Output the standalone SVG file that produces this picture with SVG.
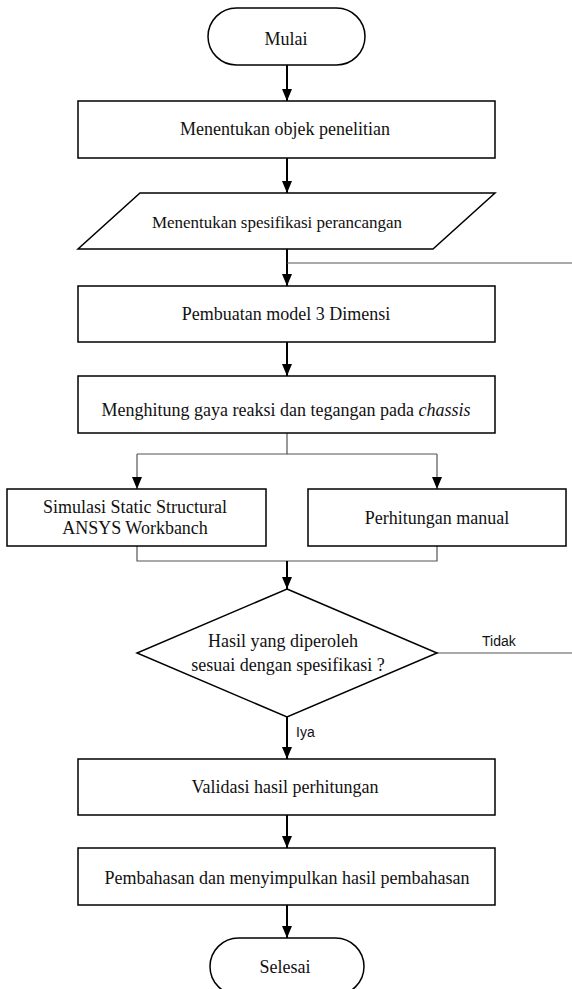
<svg xmlns="http://www.w3.org/2000/svg" width="572" height="989" viewBox="0 0 572 989">
<style>
.shape{fill:#fff;stroke:#000;stroke-width:1.5}
.t{font-family:"Liberation Serif","Times New Roman",serif;font-size:18px;fill:#111;text-anchor:middle}
.s{font-family:"Liberation Sans",Arial,sans-serif;font-size:14px;fill:#111}
.c{fill:none;stroke:#000;stroke-width:2}
.g{fill:none;stroke:#555;stroke-width:1.2}
</style>
<defs>
<marker id="ah" viewBox="0 0 12 10" refX="12" refY="5" markerWidth="12" markerHeight="10" markerUnits="userSpaceOnUse" orient="auto">
<path d="M0,0 L12,5 L0,10 z" fill="#000"/>
</marker>
</defs>
<rect width="572" height="989" fill="#fff"/>
<g id="connectors">
<line class="c" x1="287" y1="65" x2="287" y2="101" marker-end="url(#ah)"/>
<line class="c" x1="287" y1="158" x2="287" y2="193" marker-end="url(#ah)"/>
<line class="c" x1="287" y1="249" x2="287" y2="286" marker-end="url(#ah)"/>
<line class="g" x1="287" y1="263" x2="572" y2="263"/>
<line class="c" x1="287" y1="342" x2="287" y2="376" marker-end="url(#ah)"/>
<polyline class="g" points="287,433 287,454 137,454"/>
<line class="g" x1="137" y1="454" x2="137" y2="489" marker-end="url(#ah)"/>
<polyline class="g" points="287,454 437,454"/>
<line class="g" x1="437" y1="454" x2="437" y2="489" marker-end="url(#ah)"/>
<polyline class="g" points="137,546 137,561 437,561 437,546"/>
<line class="c" x1="287" y1="561" x2="287" y2="589" marker-end="url(#ah)"/>
<line class="g" x1="437" y1="653" x2="572" y2="653"/>
<text class="s" x="482" y="646">Tidak</text>
<line class="c" x1="287" y1="717" x2="287" y2="759" marker-end="url(#ah)"/>
<text class="s" x="296" y="737">Iya</text>
<line class="c" x1="287" y1="815" x2="287" y2="848" marker-end="url(#ah)"/>
<line class="c" x1="287" y1="905" x2="287" y2="938" marker-end="url(#ah)"/>
</g>
<g id="mulai">
<rect class="shape" x="208" y="8" width="157" height="57" rx="28.5"/>
<text class="t" x="286" y="45">Mulai</text>
</g>
<g id="objek">
<rect class="shape" x="78" y="101" width="417" height="57"/>
<text class="t" x="285" y="135">Menentukan objek penelitian</text>
</g>
<g id="spesifikasi">
<polygon class="shape" points="140,193 495,193 433,249 78,249"/>
<text class="t" x="152" y="228" style="text-anchor:start;font-size:17px" textLength="250" lengthAdjust="spacing">Menentukan spesifikasi perancangan</text>
</g>
<g id="model">
<rect class="shape" x="78" y="286" width="417" height="56"/>
<text class="t" x="286" y="320">Pembuatan model 3 Dimensi</text>
</g>
<g id="menghitung">
<rect class="shape" x="78" y="376" width="417" height="57"/>
<text class="t" x="286" y="416">Menghitung gaya reaksi dan tegangan pada <tspan font-style="italic">chassis</tspan></text>
</g>
<g id="simulasi">
<rect class="shape" x="7" y="489" width="259" height="57"/>
<text class="t" x="135" y="513">Simulasi Static Structural</text>
<text class="t" x="135" y="534">ANSYS Workbanch</text>
</g>
<g id="manual">
<rect class="shape" x="308" y="489" width="258" height="57"/>
<text class="t" x="437" y="524">Perhitungan manual</text>
</g>
<g id="keputusan">
<polygon class="shape" points="287,589 437,653 287,717 137,653"/>
<text class="t" x="283" y="647">Hasil yang diperoleh</text>
<text class="t" x="288" y="671">sesuai dengan spesifikasi ?</text>
</g>
<g id="validasi">
<rect class="shape" x="78" y="759" width="417" height="56"/>
<text class="t" x="285" y="793">Validasi  hasil perhitungan</text>
</g>
<g id="pembahasan">
<rect class="shape" x="78" y="848" width="417" height="57"/>
<text class="t" x="287" y="884">Pembahasan dan menyimpulkan hasil pembahasan</text>
</g>
<g id="selesai">
<rect class="shape" x="210" y="938" width="154" height="57" rx="28.5"/>
<text class="t" x="285" y="973">Selesai</text>
</g>
</svg>
